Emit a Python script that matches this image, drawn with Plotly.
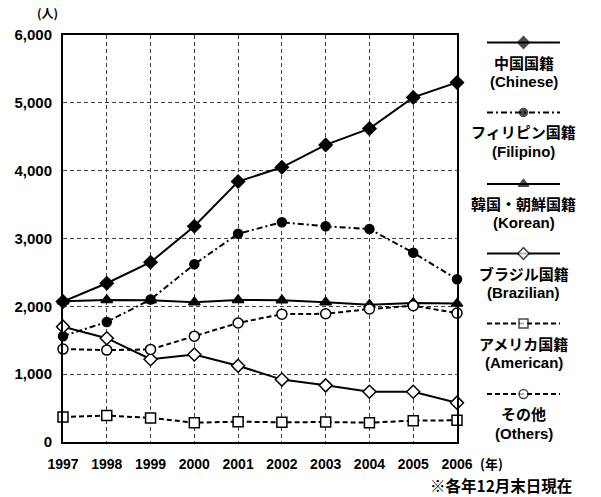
import plotly.graph_objects as go

OFF = 0
W, H = 601, 497

years = [1997, 1998, 1999, 2000, 2001, 2002, 2003, 2004, 2005, 2006]
chinese   = [2070, 2340, 2650, 3180, 3840, 4050, 4380, 4620, 5080, 5300]
filipino  = [1560, 1770, 2100, 2620, 3070, 3240, 3180, 3140, 2790, 2400]
korean    = [2075, 2095, 2090, 2060, 2095, 2090, 2060, 2025, 2050, 2040]
brazilian = [1700, 1530, 1220, 1290, 1125, 920, 835, 740, 740, 580]
american  = [370, 390, 355, 285, 300, 290, 295, 285, 315, 320]
others    = [1370, 1355, 1365, 1560, 1755, 1885, 1890, 1960, 2010, 1900]

names_jp = ["中国国籍", "フィリピン国籍", "韓国・朝鮮国籍", "ブラジル国籍", "アメリカ国籍", "その他"]
names_en = ["(Chinese)", "(Filipino)", "(Korean)", "(Brazilian)", "(American)", "(Others)"]
y_ticks = [0, 1000, 2000, 3000, 4000, 5000, 6000]
y_labels = ["0", "1,000", "2,000", "3,000", "4,000", "5,000", "6,000"]

series = [chinese, filipino, korean, brazilian, american, others]
dashes = ["solid", "6px,3px,2px,3px", "solid", "solid", "5px,3px", "5px,3px"]
symbols = ["diamond", "circle", "triangle-up", "diamond", "square", "circle"]
fills = ["black", "black", "black", "white", "white", "white"]
msizes = [10, 9, 10, 10, 10, 10]

# pixel geometry (window pixels)
PL, PR, PT, PB = 63, 457, 35, 442
LEG_Y = [42.5, 112.5, 184, 253.5, 323.5, 394]
LEG_X0, LEG_X1, LEG_XC = 487, 560, 523.5


def px(x):
    return (x - OFF) / W


def py(y):
    return 1 - (y - OFF) / H


fig = go.Figure()
for vals, d, s, f, ms, nm in zip(series, dashes, symbols, fills, msizes, names_jp):
    fig.add_trace(go.Scatter(
        x=years, y=vals, mode="lines+markers", name=nm, cliponaxis=False,
        line=dict(color="black", width=2, dash=d),
        marker=dict(symbol=s, size=ms, color=f, line=dict(color="black", width=1.5)),
        xaxis="x", yaxis="y", showlegend=False))

# legend samples on a pixel axis
for i, (d, s, f, ms) in enumerate(zip(dashes, symbols, fills, msizes)):
    ly = LEG_Y[i]
    fig.add_trace(go.Scatter(
        x=[LEG_X0, LEG_XC, LEG_X1], y=[ly, ly, ly], mode="lines+markers",
        line=dict(color="black", width=2, dash=d),
        marker=dict(symbol=s, size=[0, ms - 1, 0], color=f,
                    line=dict(color="black", width=[0, 1.5, 0])),
        xaxis="x2", yaxis="y2", showlegend=False, cliponaxis=False, hoverinfo="skip"))

font_en = "Liberation Sans, Arial, sans-serif"
font_jp = "Noto Sans CJK JP, sans-serif"

ann = []
for i in range(6):
    ly = LEG_Y[i]
    ann.append(dict(x=px(LEG_XC), y=py(ly + 19.5), xref="paper", yref="paper",
                    text=names_jp[i], showarrow=False, xanchor="center", yanchor="middle",
                    font=dict(family=font_jp, size=15, color="black", weight="bold")))
    ann.append(dict(x=px(LEG_XC), y=py(ly + 39), xref="paper", yref="paper",
                    text=names_en[i], showarrow=False, xanchor="center", yanchor="middle",
                    font=dict(family=font_en, size=15, color="black", weight="bold")))

ann.append(dict(x=px(47), y=py(13), xref="paper", yref="paper", text="(人)", showarrow=False,
                xanchor="center", yanchor="middle",
                font=dict(family=font_jp, size=12, color="black", weight="bold")))
ann.append(dict(x=px(491), y=py(463), xref="paper", yref="paper", text="(年)", showarrow=False,
                xanchor="center", yanchor="middle",
                font=dict(family=font_jp, size=13, color="black", weight="bold")))
ann.append(dict(x=px(574), y=py(485), xref="paper", yref="paper", text="※各年12月末日現在",
                showarrow=False, xanchor="right", yanchor="middle",
                font=dict(family=font_jp, size=15.5, color="black", weight="bold")))

fig.update_layout(
    width=W, height=H, margin=dict(l=0, r=0, t=0, b=0),
    paper_bgcolor="white", plot_bgcolor="rgba(0,0,0,0)",
    xaxis=dict(domain=[px(PL), px(PR)], range=[1997, 2006], tickmode="array", tickvals=years,
               ticktext=[str(y) for y in years], showgrid=True, gridcolor="#444",
               griddash="4px,3px", gridwidth=1, zeroline=False,
               showline=True, linecolor="black", linewidth=2, mirror=True,
               ticks="", ticklabelstandoff=8, automargin=False,
               tickfont=dict(family=font_en, size=14, color="black", weight="bold"),
               anchor="y"),
    yaxis=dict(domain=[py(PB), py(PT)], range=[0, 6000], tickmode="array",
               tickvals=y_ticks, ticktext=y_labels, showgrid=True, gridcolor="#444",
               griddash="4px,3px", gridwidth=1, zeroline=False,
               showline=True, linecolor="black", linewidth=2, mirror=True,
               ticks="", ticklabelstandoff=6, automargin=False,
               tickfont=dict(family=font_en, size=15, color="black", weight="bold"),
               anchor="x"),
    xaxis2=dict(domain=[0, 1], range=[OFF, OFF + W], visible=False, anchor="y2", fixedrange=True),
    yaxis2=dict(domain=[0, 1], range=[OFF + H, OFF], visible=False, anchor="x2", fixedrange=True),
    annotations=ann,
)

fig.write_html("out.html", config={"displayModeBar": False},
               post_script="document.body.style.margin='0';")
